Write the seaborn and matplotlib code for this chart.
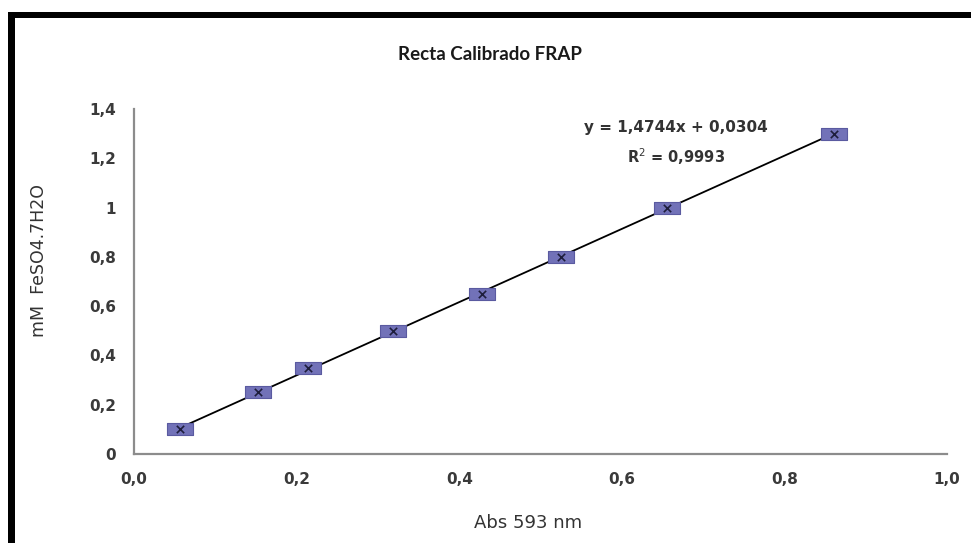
import numpy as np
import pandas as pd
import matplotlib
matplotlib.use("Agg")
import matplotlib.pyplot as plt
from matplotlib.path import Path
from matplotlib.patches import Rectangle
import seaborn as sns

# Data
abs_593 = [0.057, 0.153, 0.214, 0.319, 0.428, 0.525, 0.656, 0.861]
mM_feso4 = [0.10, 0.25, 0.35, 0.50, 0.65, 0.80, 1.00, 1.30]
x_ticks = [0.0, 0.2, 0.4, 0.6, 0.8, 1.0]
x_ticklabels = ["0,0", "0,2", "0,4", "0,6", "0,8", "1,0"]
y_ticks = [0.0, 0.2, 0.4, 0.6, 0.8, 1.0, 1.2, 1.4]
y_ticklabels = ["0", "0,2", "0,4", "0,6", "0,8", "1", "1,2", "1,4"]
title = "Recta Calibrado FRAP"
xlabel = "Abs 593 nm"
ylabel = "mM  FeSO4.7H2O"
eq_text = "y = 1,4744x + 0,0304"
r2_text = "R$^{2}$ = 0,9993"

df = pd.DataFrame({"abs": abs_593, "mM": mM_feso4})

sns.set_style("white")
plt.rcParams["font.family"] = ["DejaVu Sans"]
plt.rcParams["mathtext.fontset"] = "dejavusans"

fig = plt.figure(figsize=(9.71, 5.43), dpi=100)
ax = fig.add_axes([134/971, 1 - 454/543, 813/971, 345/543])

rect_marker = Path([(-1.1, -0.5), (1.1, -0.5), (1.1, 0.5), (-1.1, 0.5), (-1.1, -0.5)],
                   [Path.MOVETO, Path.LINETO, Path.LINETO, Path.LINETO, Path.CLOSEPOLY])

sns.regplot(data=df, x="abs", y="mM", ax=ax, ci=None, scatter=False,
            line_kws=dict(color="black", lw=1.3, zorder=2))
sns.scatterplot(data=df, x="abs", y="mM", ax=ax, marker=rect_marker, s=340,
                color="#7272b8", edgecolor="#5a5aa0", linewidth=0.8, zorder=3)
sns.scatterplot(data=df, x="abs", y="mM", ax=ax, marker="x", s=28,
                color="#1e1e3c", linewidth=1.2, zorder=4)

ax.set_xlim(0, 1.0)
ax.set_ylim(0, 1.4)
ax.set_xticks(x_ticks)
ax.set_xticklabels(x_ticklabels)
ax.set_yticks(y_ticks)
ax.set_yticklabels(y_ticklabels)
for s in ["top", "right"]:
    ax.spines[s].set_visible(False)
for s in ["left", "bottom"]:
    ax.spines[s].set_color("#8c8c8c")
    ax.spines[s].set_linewidth(1.6)
ax.tick_params(axis="both", direction="out", length=4, width=1, color="#8c8c8c",
               labelsize=11, labelcolor="#3a3a3a", pad=9)
for lab in ax.get_xticklabels() + ax.get_yticklabels():
    lab.set_fontweight("bold")

ax.set_xlabel(xlabel, fontsize=13, color="#333333")
ax.xaxis.set_label_coords(0.485, -0.175)
ax.set_ylabel(ylabel, fontsize=12.5, color="#333333")
ax.yaxis.set_label_coords(-0.106, 0.56)

ax.text(0.667, 1.323, eq_text, ha="center", va="center", fontsize=11,
        color="#333333", fontweight="bold")
ax.text(0.667, 1.205, r2_text, ha="center", va="center", fontsize=10.5,
        color="#333333", fontweight="bold")

fig.text(0.505, 1 - 55/543, title, ha="center", va="center", fontsize=13.5,
         fontweight="bold", color="#1a1a1a", family=["Lato", "DejaVu Sans"])

# black frame on top and left edges
fig.patches.append(Rectangle((8/971, 0), 7/971, 1 - 12/543, transform=fig.transFigure,
                             facecolor="black", edgecolor="none"))
fig.patches.append(Rectangle((8/971, 1 - 18/543), 1, 6/543, transform=fig.transFigure,
                             facecolor="black", edgecolor="none"))

fig.savefig("out.png", dpi=100)
